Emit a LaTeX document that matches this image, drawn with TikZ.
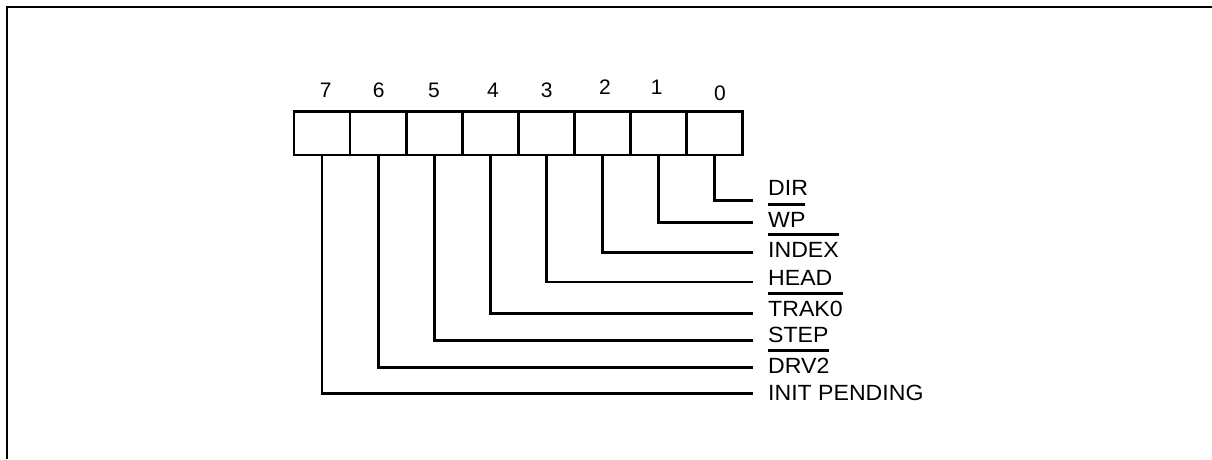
\documentclass[tikz,border=0pt]{standalone}
\usepackage{fontspec}
\setmainfont{Liberation Sans}
\newfontfamily\lblfont{Liberation Sans}[FakeStretch=1.05]
\usetikzlibrary{positioning}
\tikzstyle{frame} = [draw, line width=2.6pt]
\tikzstyle{bitcell} = [draw, rectangle, line width=2.8pt, minimum width=56.1pt, minimum height=43.3pt, inner sep=0pt, outer sep=0pt]
\tikzstyle{bitno} = [inner sep=0pt, font=\fontsize{21}{21}\selectfont]
\tikzstyle{sig} = [inner sep=0pt, anchor=base west, font=\lblfont\fontsize{22}{22}\selectfont]
\tikzstyle{lead} = [draw, line width=2.8pt]
% active-low signal: thick bar over the name
\newcommand{\nsig}[1]{\setbox0\hbox{#1}\rlap{\rule[\dimexpr\ht0+6pt\relax]{\wd0}{2.8pt}}#1}

\begin{document}
\begin{tikzpicture}[x=1pt, y=-1pt]
	\useasboundingbox (0,0) rectangle (1212,459);
	\draw [frame] (1212,7) -- (7,7) -- (7,459);

	% register cells, bit 7 on the left
	\node [bitcell] (b7) at (322,133.3) {};
	\foreach \i/\j in {6/7, 5/6, 4/5, 3/4, 2/3, 1/2, 0/1}
		\node [bitcell, right=0pt of b\j] (b\i) {};

	% bit numbers
	\foreach \i/\nx/\ny in {7/325.7/90, 6/378.8/90, 5/434/90, 4/493/90.5, 3/546.7/90, 2/605/87, 1/656.7/87, 0/720/93.5}
		\node [bitno] (n\i) at (\nx,\ny) {\i};

	% signal names and leads
	\foreach \i/\ly/\ty/\txt in {0/200.7/195.7/DIR, 1/222.3/227/\nsig{WP}, 2/252.3/257.3/\nsig{INDEX}, 3/282/285/HEAD, 4/313.3/316/\nsig{TRAK0}, 5/340.7/342.5/STEP, 6/367.3/373.5/\nsig{DRV2}, 7/393.7/400.7/INIT PENDING} {
		\coordinate (e\i) at (752.7,\ly);
		\node [sig] (l\i) at (768,\ty) {\txt};
		\path [lead] (b\i.south) |- (e\i);
	}
\end{tikzpicture}
\end{document}
